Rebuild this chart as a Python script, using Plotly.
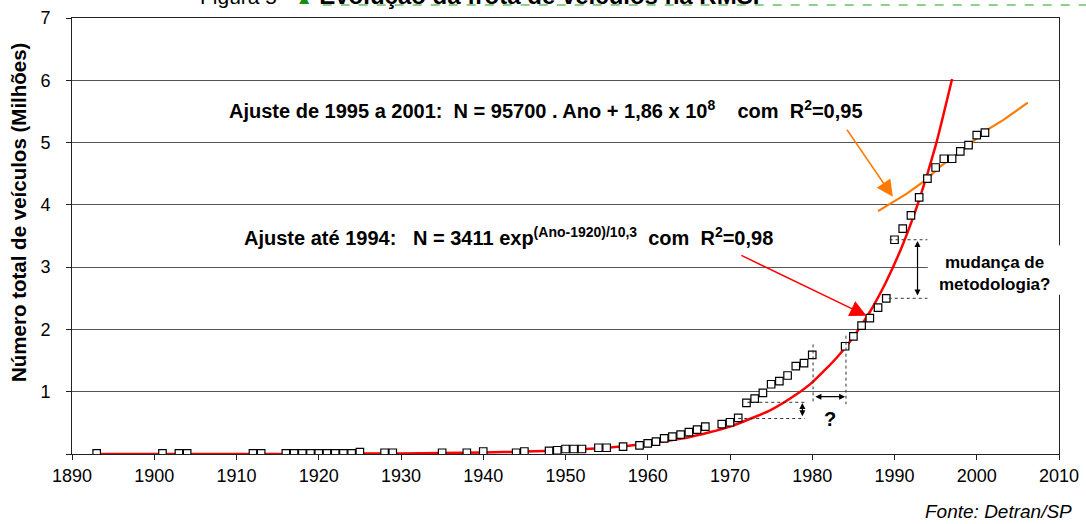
import plotly.graph_objects as go

# Frota registrada (milhões de veículos)
anos = [1893, 1901, 1903, 1904, 1912, 1913, 1916, 1917, 1918, 1919, 1920, 1921,
        1922, 1923, 1924, 1925, 1928, 1929, 1935, 1938, 1940, 1944, 1945, 1948,
        1949, 1950, 1951, 1952, 1954, 1955, 1957, 1959, 1960, 1961, 1962, 1963,
        1964, 1965, 1966, 1967, 1969, 1970, 1971, 1972, 1973, 1974, 1975, 1976,
        1977, 1978, 1979, 1980, 1984, 1985, 1986, 1987, 1988, 1989, 1990, 1991,
        1992, 1993, 1994, 1995, 1996, 1997, 1998, 1999, 2000, 2001]
frota = [0.01, 0.01, 0.01, 0.01, 0.01, 0.01, 0.01, 0.01, 0.01, 0.01, 0.01, 0.01,
         0.01, 0.01, 0.01, 0.03, 0.02, 0.02, 0.02, 0.02, 0.04, 0.02, 0.04, 0.05,
         0.06, 0.08, 0.08, 0.08, 0.10, 0.10, 0.12, 0.14, 0.17, 0.20, 0.25, 0.28,
         0.31, 0.35, 0.39, 0.44, 0.48, 0.51, 0.58, 0.82, 0.89, 0.98, 1.12, 1.17,
         1.26, 1.41, 1.46, 1.59, 1.73, 1.89, 2.06, 2.18, 2.35, 2.50, 3.44, 3.62,
         3.83, 4.12, 4.42, 4.60, 4.74, 4.74, 4.86, 4.96, 5.12, 5.16]

# Curva de ajuste exponencial (até 1994)
anos_exp = [1893, 1900, 1910, 1920, 1930, 1940, 1945, 1950, 1955, 1960, 1965,
            1970, 1975, 1978, 1980, 1983, 1985, 1987, 1989, 1991, 1993, 1995, 1997]
ajuste_exp = [0.0, 0.0, 0.0, 0.003, 0.01, 0.024, 0.039, 0.063, 0.10, 0.17, 0.27,
              0.44, 0.71, 0.95, 1.15, 1.55, 1.88, 2.28, 2.77, 3.36, 4.08, 4.95, 6.02]

# Ajuste linear (1995 a 2001)
anos_lin = [1988.0, 1991.5, 1993.9, 1995.5, 1998.3, 2001.2, 2003.2, 2006.2]
ajuste_lin = [3.90, 4.18, 4.41, 4.61, 4.88, 5.20, 5.36, 5.64]

anos_ticks = list(range(1890, 2011, 10))
valores_ticks = [0, 1, 2, 3, 4, 5, 6, 7]

FONT = "Arial, Liberation Sans, sans-serif"
NB = "\u00a0"

fig = go.Figure()

fig.add_trace(go.Scatter(
    x=anos_exp, y=ajuste_exp, mode="lines",
    line=dict(color="#ff0000", width=2.5, shape="spline", smoothing=0.6),
    hoverinfo="skip", showlegend=False,
))
fig.add_trace(go.Scatter(
    x=anos_lin, y=ajuste_lin, mode="lines",
    line=dict(color="#ff7a00", width=2.2),
    hoverinfo="skip", showlegend=False,
))
fig.add_trace(go.Scatter(
    x=anos, y=frota, mode="markers",
    marker=dict(symbol="square", size=7.5, color="white",
                line=dict(color="black", width=1.2)),
    showlegend=False,
))

dot = dict(color="#333333", width=1, dash="dot")
shapes = [
    # linhas pontilhadas em torno de 1980
    dict(type="line", xref="x", yref="y", x0=1980.1, x1=1980.1, y0=1.76, y1=0.80, line=dot),
    dict(type="line", xref="x", yref="y", x0=1984.1, x1=1984.1, y0=1.90, y1=0.80, line=dot),
    dict(type="line", xref="x", yref="y", x0=1972.1, x1=1979.1, y0=0.83, y1=0.83, line=dot),
    dict(type="line", xref="x", yref="y", x0=1971.0, x1=1979.1, y0=0.57, y1=0.57, line=dot),
    # linhas pontilhadas em 1990
    dict(type="line", xref="x", yref="y", x0=1989.4, x1=1994.0, y0=3.44, y1=3.44, line=dot),
    dict(type="line", xref="x", yref="y", x0=1989.3, x1=1994.0, y0=2.50, y1=2.50, line=dot),
    # caixa branca do texto "mudança de metodologia?"
    dict(type="rect", xref="paper", yref="paper", x0=0.867, x1=1.01, y0=0.365, y1=0.479,
         fillcolor="white", line=dict(width=0), layer="above"),
    # linha tracejada verde do título
    dict(type="line", xref="paper", yref="paper", x0=0.254, x1=1.03, y0=1.0298, y1=1.0298,
         line=dict(color="#22a022", width=1.2, dash="dash")),
]

def seta(x, y, ax, ay, cor, largura, tamanho, dupla=False):
    return dict(x=x, y=y, ax=ax, ay=ay, xref="x", yref="y", axref="x", ayref="y",
                text="", showarrow=True, arrowhead=2, arrowsize=tamanho,
                arrowwidth=largura, arrowcolor=cor,
                startarrowhead=2, startarrowsize=tamanho,
                arrowside="end+start" if dupla else "end")

annotations = [
    dict(text=f"<b>Ajuste de 1995 a 2001:{NB}{NB}N = 95700 . Ano + 1,86 x 10<sup>8</sup>"
              f"{NB}{NB}{NB}{NB}com{NB}{NB}R<sup>2</sup>=0,95</b>",
         x=546, y=110, showarrow=False, font=dict(size=20, color="black", family=FONT)),
    dict(text=f"<b>Ajuste até 1994:{NB}{NB}{NB}N = 3411 exp<sup>(Ano-1920)/10,3</sup>"
              f"{NB}{NB}com{NB}{NB}R<sup>2</sup>=0,98</b>",
         x=508, y=236, showarrow=False, font=dict(size=20, color="black", family=FONT)),
    seta(1989.8, 4.13, 1984.1, 5.23, "#ff7a00", 1.5, 2.2),
    seta(1986.6, 2.22, 1971.2, 3.20, "#ff0000", 1.5, 2.2),
    seta(1992.8, 3.42, 1992.8, 2.52, "black", 1.2, 1.0, dupla=True),
    seta(1984.0, 0.92, 1980.2, 0.92, "black", 1.2, 1.0, dupla=True),
    seta(1978.8, 0.82, 1978.8, 0.58, "black", 1.2, 1.0, dupla=True),
    dict(text="<b>?</b>", x=1982.2, y=0.57, xref="x", yref="y", showarrow=False,
         xanchor="center", yanchor="middle",
         font=dict(size=20, color="black", family=FONT)),
    dict(text="<b>mudança de</b>", x=994, y=262, showarrow=False,
         font=dict(size=17, color="black", family=FONT)),
    dict(text="<b>metodologia?</b>", x=994, y=284, showarrow=False,
         font=dict(size=17, color="black", family=FONT)),
    dict(text="<i>Fonte: Detran/SP</i>", x=1074, y=511, xanchor="right", showarrow=False,
         font=dict(size=19, color="black", family=FONT)),
    dict(text="<b>Número total de veículos (Milhões)</b>", x=18, y=213, textangle=-90,
         showarrow=False, font=dict(size=20.5, color="black", family=FONT)),
    dict(text="<span style='font-size:21px'>Figura 5 -" + NB + "</span>"
              "<span style='color:#1a8c1a;font-size:17px'>▲</span>" + NB +
              "<b>Evolução da frota de veículos na RMSP</b>",
         x=198, y=-5, xanchor="left", showarrow=False,
         font=dict(size=24, color="black", family=FONT)),
]

# converte posições em pixels da imagem para coordenadas "paper"
L, R, T, B = 72, 27, 18, 70
W, H = 1086, 524
pw, ph = W - L - R, H - T - B
for a in annotations:
    a.setdefault("xanchor", "center")
    a.setdefault("yanchor", "middle")
    if a.get("xref") == "x":
        continue
    a["x"] = (a["x"] - L) / pw
    a["y"] = (H - B - a["y"]) / ph
    a["xref"] = "paper"
    a["yref"] = "paper"

fig.update_layout(
    width=W, height=H,
    margin=dict(l=L, r=R, t=T, b=B, autoexpand=False),
    paper_bgcolor="white", plot_bgcolor="white",
    font=dict(family=FONT, color="black", size=18),
    shapes=shapes, annotations=annotations,
    showlegend=False,
)
fig.update_xaxes(
    range=[1890, 2010], tickvals=anos_ticks, showgrid=False,
    showline=True, linecolor="#222222", linewidth=1, mirror=True,
    ticks="outside", ticklen=5, tickcolor="#222222",
    tickfont=dict(size=18, family=FONT), zeroline=False,
)
fig.update_yaxes(
    range=[0, 7], tickvals=valores_ticks,
    ticktext=[""] + [str(v) for v in valores_ticks[1:]],
    showgrid=True, gridcolor="#555555", gridwidth=1,
    showline=True, linecolor="#222222", linewidth=1, mirror=True,
    ticks="outside", ticklen=5, tickcolor="#222222",
    tickfont=dict(size=18, family=FONT), zeroline=False,
    ticklabelstandoff=12,
)

# a página tem margem de 8px no body; zera para alinhar a figura no canto
fig.write_html("out.html", config={"displayModeBar": False},
               post_script="document.body.style.margin='0';")
